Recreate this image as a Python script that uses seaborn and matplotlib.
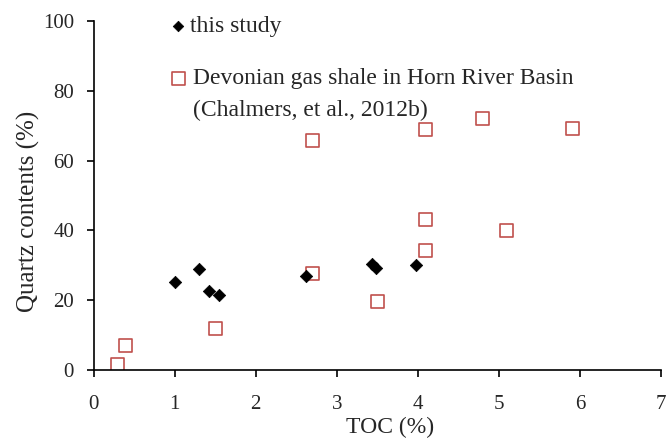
import matplotlib
matplotlib.use("Agg")
import matplotlib.pyplot as plt
from matplotlib.lines import Line2D
import seaborn as sns
import pandas as pd

# this study
toc_study = [1.01, 1.30, 1.42, 1.55, 2.62, 3.43, 3.49, 3.98]
quartz_study = [25.1, 28.9, 22.7, 21.6, 27.0, 30.3, 29.3, 30.1]

# Devonian gas shale in Horn River Basin (Chalmers et al., 2012b)
toc_horn = [0.29, 0.39, 1.50, 2.70, 2.70, 3.50, 4.09, 4.09, 4.09, 4.80, 5.10, 5.91]
quartz_horn = [1.6, 7.1, 11.8, 27.6, 65.8, 19.7, 34.3, 43.2, 68.8, 72.1, 39.9, 69.3]

label_study = "this study"
label_horn_1 = "Devonian gas shale in Horn River Basin"
label_horn_2 = "(Chalmers, et al., 2012b)"

sns.set_theme(style="white")
plt.rcParams['font.family'] = ['Liberation Serif', 'DejaVu Serif']

df_s = pd.DataFrame({"TOC": toc_study, "Q": quartz_study})
df_h = pd.DataFrame({"TOC": toc_horn, "Q": quartz_horn})

fig = plt.figure(figsize=(6.68, 4.40), dpi=100)
ax = fig.add_axes([0.140, 0.159, 0.8495, 0.793])

sns.scatterplot(data=df_s, x="TOC", y="Q", ax=ax, marker="D", s=40,
                color="black", edgecolor="black", linewidth=0.5,
                label=label_study, zorder=3, legend=False)
sns.scatterplot(data=df_h, x="TOC", y="Q", ax=ax, marker="s", s=88,
                facecolors="none", edgecolor="#C0504D", linewidth=1.2,
                label=label_horn_1, zorder=2, legend=False)

ax.set_xlim(0, 7)
ax.set_ylim(0, 100)
ax.set_xticks(range(0, 8))
ax.set_yticks(range(0, 101, 20))
ax.set_xlabel("TOC (%)", fontsize=17)
ax.set_ylabel("Quartz contents (%)", fontsize=18)
ax.xaxis.set_label_coords(0.523, -0.135)
ax.yaxis.set_label_coords(-0.095, 0.456)

for s in ["top", "right"]:
    ax.spines[s].set_visible(False)
for s in ["left", "bottom"]:
    ax.spines[s].set_color("black")
    ax.spines[s].set_linewidth(1.2)
ax.tick_params(axis="both", which="major", direction="out", length=5,
               width=1.2, color="black", labelsize=15, left=True, bottom=True)
ax.tick_params(axis="x", pad=13)
ax.tick_params(axis="y", pad=9)

sc_study, sc_horn = ax.collections[0], ax.collections[1]
blank = Line2D([], [], linestyle="none", marker="none")

leg1 = fig.legend([sc_study], [label_study], loc="upper left",
                  bbox_to_anchor=(0.2495, 0.964), bbox_transform=fig.transFigure,
                  frameon=False, fontsize=17, handletextpad=0.0,
                  handlelength=1.0, borderpad=0, borderaxespad=0,
                  markerscale=0.85)
leg2 = fig.legend([sc_horn, blank], [label_horn_1, label_horn_2], loc="upper left",
                  bbox_to_anchor=(0.2495, 0.846), bbox_transform=fig.transFigure,
                  frameon=False, fontsize=17, handletextpad=0.12,
                  handlelength=1.0, borderpad=0, borderaxespad=0,
                  labelspacing=0.45, markerscale=1.0)

fig.savefig("out.png", dpi=100)
